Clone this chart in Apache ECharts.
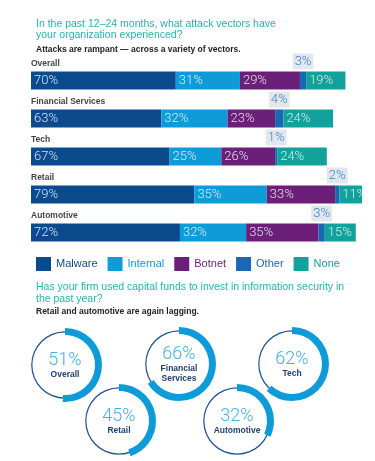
<!DOCTYPE html>
<html>
<head>
<meta charset="utf-8">
<script src="https://cdn.jsdelivr.net/npm/echarts@6/dist/echarts.min.js"></script>
<style>
  html, body { margin: 0; padding: 0; background: #fff; }
  #main { width: 375px; height: 461px; }
</style>
</head>
<body>
<div id="main"></div>
<script>
var categories = ['Overall', 'Financial Services', 'Tech', 'Retail', 'Automotive']
var malware = [70, 63, 67, 79, 72]
var internal = [31, 32, 25, 35, 32]
var botnet = [29, 23, 26, 33, 35]
var other = [3, 4, 1, 2, 3]
var none = [19, 24, 24, 11, 15]

var donutNames = ['Overall', 'Financial\nServices', 'Tech', 'Retail', 'Automotive']
var donutValues = [51, 66, 62, 45, 32]

var colors = ['#0c4a8e', '#0f9bd8', '#6b1f78', '#1a67b4', '#13a29b']
var thin = 'Roboto'
var donutCenters = [[65, 365], [179, 364], [292, 364], [119, 421], [237, 421]]

var myChart = echarts.init(document.getElementById('main'))

function insideLabel(){
  return {
    show: true,
    position: 'insideLeft',
    distance: 3,
    formatter: '{c}%',
    color: 'rgba(235,243,252,0.9)',
    fontFamily: thin,
    fontWeight: 300,
    fontSize: 13
  }
}

var names = ['Malware', 'Internal', 'Botnet', 'Other', 'None']
var values = [malware, internal, botnet, other, none]
var series = []

// zero-width bar at the start of each row, only there to carry the row name
series.push({
  name: 'row',
  type: 'bar',
  stack: 'all',
  barWidth: 18,
  data: categories.map(function(){ return 0 }),
  silent: true,
  label: {
    show: true,
    position: [0, -12],
    formatter: '{b}',
    color: '#444',
    fontSize: 8.5,
    fontWeight: 'bold',
    fontFamily: 'Liberation Sans'
  }
})

for (let i = 0; i < names.length; i++) {
  let lbl = insideLabel()
  if (names[i] === 'Other') {
    lbl = {
      show: true,
      position: 'top',
      distance: 2,
      formatter: '{c}%',
      color: '#3c83c8',
      backgroundColor: '#e2e7ed',
      padding: [2, 2, 1, 2],
      fontFamily: thin,
      fontWeight: 300,
      fontSize: 13
    }
  }
  series.push({
    name: names[i],
    type: 'bar',
    stack: 'all',
    barWidth: 18,
    data: values[i],
    itemStyle: { color: colors[i] },
    label: lbl,
    silent: true
  })
}

for (let i = 0; i < donutValues.length; i++) {
  series.push({
    type: 'pie',
    silent: true,
    center: donutCenters[i],
    radius: [32.6, 33.8],
    label: { show: false },
    data: [{ value: 1, itemStyle: { color: '#1c4f8e' } }]
  })
  series.push({
    type: 'pie',
    silent: true,
    center: donutCenters[i],
    radius: [30, 37],
    startAngle: 90,
    label: { show: false },
    labelLine: { show: false },
    data: [
      {
        value: donutValues[i],
        name: donutNames[i],
        itemStyle: { color: '#0f9bd8' },
        label: {
          show: true,
          position: 'center',
          formatter: '{v|{c}%}\n{n|{b}}',
          rich: {
            v: { fontFamily: thin, fontWeight: 300, fontSize: 18, color: '#49aee3', lineHeight: 20 },
            n: { fontSize: 8.5, fontWeight: 'bold', color: '#1f3f70', lineHeight: 10, fontFamily: 'Liberation Sans' }
          }
        }
      },
      { value: 100 - donutValues[i], name: '', itemStyle: { color: 'rgba(0,0,0,0)' } }
    ]
  })
}

let option = {
  animation: false,
  title: [
    {
      text: 'In the past 12\u201324 months, what attack vectors have\nyour organization experienced?',
      left: 31, top: 14,
      textStyle: { color: '#27b2ac', fontSize: 10.5, fontWeight: 'normal', lineHeight: 11, fontFamily: 'Liberation Sans' }
    },
    {
      text: 'Attacks are rampant \u2014 across a variety of vectors.',
      left: 31, top: 40,
      textStyle: { color: '#222', fontSize: 8.5, fontWeight: 'bold', fontFamily: 'Liberation Sans' }
    },
    {
      text: 'Has your firm used capital funds to invest in information security in\nthe past year?',
      left: 31, top: 276,
      textStyle: { color: '#27b2ac', fontSize: 10.5, fontWeight: 'normal', lineHeight: 12, fontFamily: 'Liberation Sans' }
    },
    {
      text: 'Retail and automotive are again lagging.',
      left: 31, top: 302,
      textStyle: { color: '#222', fontSize: 8.5, fontWeight: 'bold', fontFamily: 'Liberation Sans' }
    }
  ],
  legend: {
    left: 31, top: 252,
    itemWidth: 15, itemHeight: 14, itemGap: 10,
    icon: 'rect',
    selectedMode: false,
    data: names.map(function(n, i){
      return { name: n, textStyle: { color: colors[i], fontSize: 11, fontFamily: 'Liberation Sans' } }
    })
  },
  grid: { left: 31, right: 13, top: 61.5, height: 190 },
  xAxis: {
    type: 'value',
    min: 0, max: 160,
    show: false
  },
  yAxis: {
    type: 'category',
    inverse: true,
    data: categories,
    show: false
  },
  series: series
}
myChart.setOption(option)
</script>
</body>
</html>
